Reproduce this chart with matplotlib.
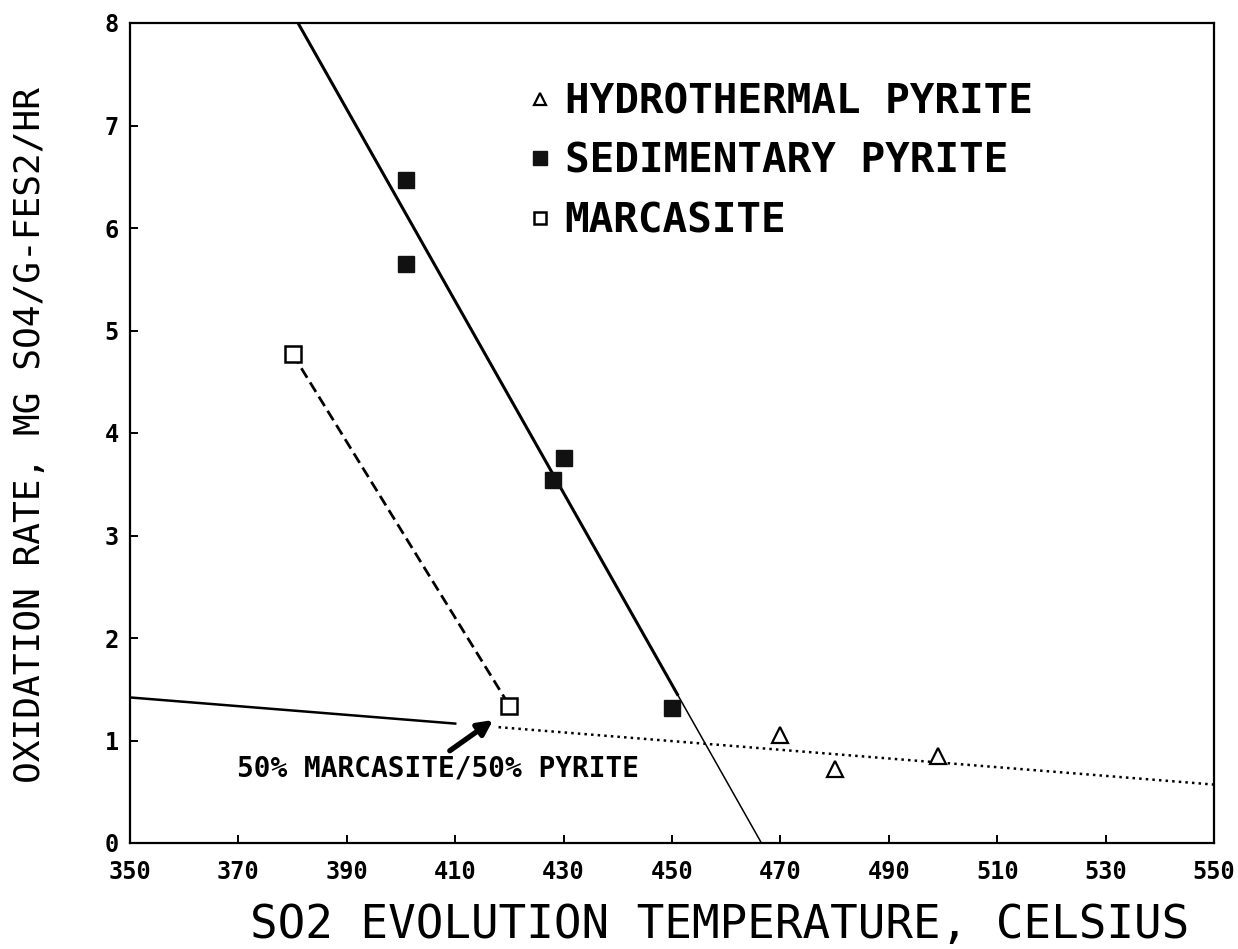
import matplotlib
matplotlib.use('Agg')
import matplotlib.pyplot as plt

# data
hydro_x = [470, 480, 499]
hydro_y = [1.05, 0.72, 0.85]
sed_x = [401, 401, 428, 430, 450]
sed_y = [6.47, 5.65, 3.54, 3.76, 1.32]
marc_x = [380, 420]
marc_y = [4.77, 1.34]

# hand-drawn trend lines (end points)
sed_fit_thick_x = [381, 451]
sed_fit_thick_y = [8.0, 1.45]
sed_fit_thin_x = [451, 466.5]
sed_fit_thin_y = [1.45, 0.0]
hydro_fit_solid_x = [350, 410]
hydro_fit_solid_y = [1.42, 1.165]
hydro_fit_dot_x = [418, 550]
hydro_fit_dot_y = [1.13, 0.57]

x_ticks = list(range(350, 551, 20))
y_ticks = list(range(0, 9))

MONO = 'DejaVu Sans Mono'
matplotlib.rcParams['font.family'] = MONO

fig = plt.figure(figsize=(12.38, 9.49), dpi=100)
ax = fig.add_axes([130 / 1238, 1 - 843 / 949, 1084 / 1238, 820 / 949])

# trend lines
ax.plot(sed_fit_thick_x, sed_fit_thick_y, color='k', lw=2.2, zorder=2)
ax.plot(sed_fit_thin_x, sed_fit_thin_y, color='k', lw=1.1, zorder=2)
ax.plot(hydro_fit_solid_x, hydro_fit_solid_y, color='k', lw=1.8, zorder=2)
ax.plot(hydro_fit_dot_x, hydro_fit_dot_y, color='k', lw=1.8, ls=':', zorder=2)
ax.plot(marc_x, marc_y, color='k', lw=2.0, dashes=(4, 2), zorder=2)

# data points
h1, = ax.plot(hydro_x, hydro_y, ls='none', marker='^', ms=11, mfc='white',
              mec='k', mew=1.6, zorder=3, label='HYDROTHERMAL PYRITE')
h2, = ax.plot(sed_x, sed_y, ls='none', marker='s', ms=12, mfc='#111111',
              mec='#111111', zorder=3, label='SEDIMENTARY PYRITE')
h3, = ax.plot(marc_x, marc_y, ls='none', marker='s', ms=11, mfc='white',
              mec='k', mew=1.8, zorder=3, label='MARCASITE')

leg = ax.legend(handles=[h1, h2, h3], loc='upper left',
                bbox_to_anchor=(0.367, 0.928), frameon=False,
                prop={'family': MONO, 'size': 29.5, 'weight': 'bold'},
                handlelength=0.6, handletextpad=0.3, labelspacing=0.5,
                borderpad=0, borderaxespad=0, markerscale=0.85)

# annotation for the mixed sample
ax.annotate('', xy=(417, 1.2), xytext=(409, 0.9),
            arrowprops=dict(arrowstyle='-|>', lw=3.8, color='k',
                            mutation_scale=22, shrinkA=0, shrinkB=0))
ax.text(369.7, 0.73, '50% MARCASITE/50% PYRITE', ha='left', va='center',
        fontsize=20, fontweight='bold', family=MONO)

ax.set_xlim(350, 550)
ax.set_ylim(0, 8)
ax.set_xticks(x_ticks)
ax.set_xticklabels([str(v) for v in x_ticks])
ax.set_yticks(y_ticks)
ax.set_yticklabels([str(v) for v in y_ticks])
for sp in ax.spines.values():
    sp.set_linewidth(1.6)
ax.tick_params(direction='in', length=6, width=1.4, labelsize=17)
ax.tick_params(axis='x', pad=12)
ax.tick_params(axis='y', pad=8)
for lab in ax.get_xticklabels() + ax.get_yticklabels():
    lab.set_fontweight('bold')

fig.text(720 / 1238, 1 - 925 / 949, 'SO2 EVOLUTION TEMPERATURE, CELSIUS',
         ha='center', va='center', fontsize=33, family=MONO)
fig.text(30 / 1238, 1 - 435 / 949, 'OXIDATION RATE, MG SO4/G-FES2/HR',
         ha='center', va='center', rotation=90, fontsize=26, family=MONO)

fig.savefig('out.png', dpi=100)
